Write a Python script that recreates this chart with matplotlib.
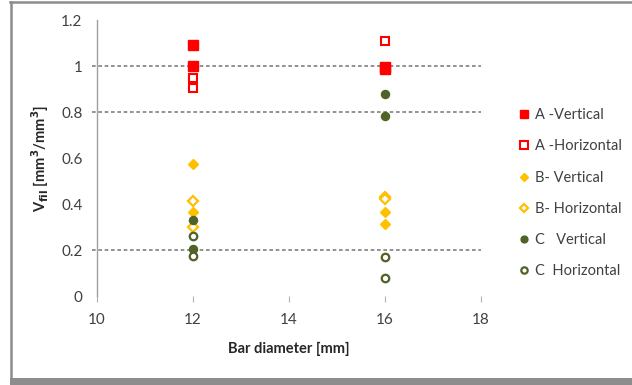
import matplotlib
matplotlib.use("Agg")
import matplotlib.pyplot as plt
from matplotlib.lines import Line2D
from matplotlib.patches import Rectangle

plt.rcParams['font.family'] = ['Lato', 'DejaVu Sans']

# ---- data ----
x_ticks = [10, 12, 14, 16, 18]
y_ticks = [0, 0.2, 0.4, 0.6, 0.8, 1, 1.2]
y_tick_labels = ['0', '0.2', '0.4', '0.6', '0.8', '1', '1.2']
ref_lines = [0.2, 0.8, 1.0]

a_vert_x = [12, 12, 16, 16]
a_vert_y = [1.09, 1.0, 0.985, 0.995]
a_hor_x = [12, 12, 16]
a_hor_y = [0.95, 0.903, 1.11]
b_vert_x = [12, 12, 16, 16]
b_vert_y = [0.573, 0.364, 0.365, 0.313]
b_hor_x = [12, 12, 16, 16]
b_hor_y = [0.413, 0.301, 0.43, 0.42]
c_vert_x = [12, 12, 16, 16]
c_vert_y = [0.33, 0.203, 0.878, 0.784]
c_hor_x = [12, 12, 16, 16]
c_hor_y = [0.262, 0.175, 0.17, 0.077]

labels = ['A -Vertical', 'A -Horizontal', 'B- Vertical', 'B- Horizontal',
          'C   Vertical', 'C  Horizontal']

RED = '#FF0000'
GOLD = '#FFC000'
GREEN = '#4F6228'
TXT = '#404040'

W, H = 632, 385
fig = plt.figure(figsize=(W / 100, H / 100), dpi=100)
ax = fig.add_axes([97 / W, 1 - 296 / H, (481 - 97) / W, (296 - 20) / H])

# reference dashed lines
for v in ref_lines:
    ax.plot([9.9, 18], [v, v], color='#808080', lw=1.2,
            linestyle=(0, (2.2, 1.6)), clip_on=False, zorder=1)

h1, = ax.plot(a_vert_x, a_vert_y, 's', ms=7.0, color=RED, mec=RED, zorder=3)
h2, = ax.plot(a_hor_x, a_hor_y, 's', ms=6.2, mfc='white', mec=RED, mew=1.5, zorder=3)
h3, = ax.plot(b_vert_x, b_vert_y, 'D', ms=5.2, color=GOLD, mec=GOLD, zorder=3)
h4, = ax.plot(b_hor_x, b_hor_y, 'D', ms=5.2, mfc='white', mec=GOLD, mew=1.6, zorder=3)
h5, = ax.plot(c_vert_x, c_vert_y, 'o', ms=5.8, color=GREEN, mec=GREEN, zorder=3)
h6, = ax.plot(c_hor_x, c_hor_y, 'o', ms=5.4, mfc='white', mec=GREEN, mew=1.6, zorder=3)

ax.set_xlim(10, 18)
ax.set_ylim(0, 1.2)
ax.set_xticks(x_ticks)
ax.set_yticks(y_ticks)
ax.set_yticklabels(y_tick_labels)

for s in ['top', 'right', 'bottom']:
    ax.spines[s].set_visible(False)
ax.spines['left'].set_color('#A0A0A0')
ax.spines['left'].set_linewidth(1.0)

ax.tick_params(axis='x', direction='out', length=4.5, width=0.8, color='#B0B0B0',
               labelsize=11, labelcolor=TXT, pad=8)
ax.tick_params(axis='y', length=0, labelsize=11, labelcolor=TXT, pad=10.5)

ax.set_xlabel('Bar diameter [mm]', fontsize=10.5, fontweight='bold', color='#262626')
ax.xaxis.set_label_coords(0.5, -0.165)
ax.set_ylabel(r'V$_{\mathbf{fil}}$ [mm$^\mathbf{3}$/mm$^\mathbf{3}$]', fontsize=10.5,
              fontweight='bold', color='#262626')
ax.yaxis.set_label_coords(-0.12, 0.5)

leg = fig.legend([h1, h2, h3, h4, h5, h6], labels, loc='upper left',
                 bbox_to_anchor=(512 / W, 1 - 101 / H), frameon=False,
                 fontsize=10.5, labelspacing=1.18, handlelength=0.6,
                 handletextpad=0.45, markerscale=0.85, borderpad=0)
for t in leg.get_texts():
    t.set_color(TXT)

# outer border
fig.add_artist(Line2D([10.5 / W, 1], [1 - 2 / H, 1 - 2 / H], color='#8C8C8C', lw=1.8,
                      transform=fig.transFigure))
fig.add_artist(Line2D([11 / W, 11 / W], [0, 1 - 1.5 / H], color='#8C8C8C', lw=1.8,
                      transform=fig.transFigure))
fig.add_artist(Rectangle((10 / W, 0), 1, 7 / H, color='#8C8C8C',
                         transform=fig.transFigure, lw=0))

fig.savefig('out.png', dpi=100)
